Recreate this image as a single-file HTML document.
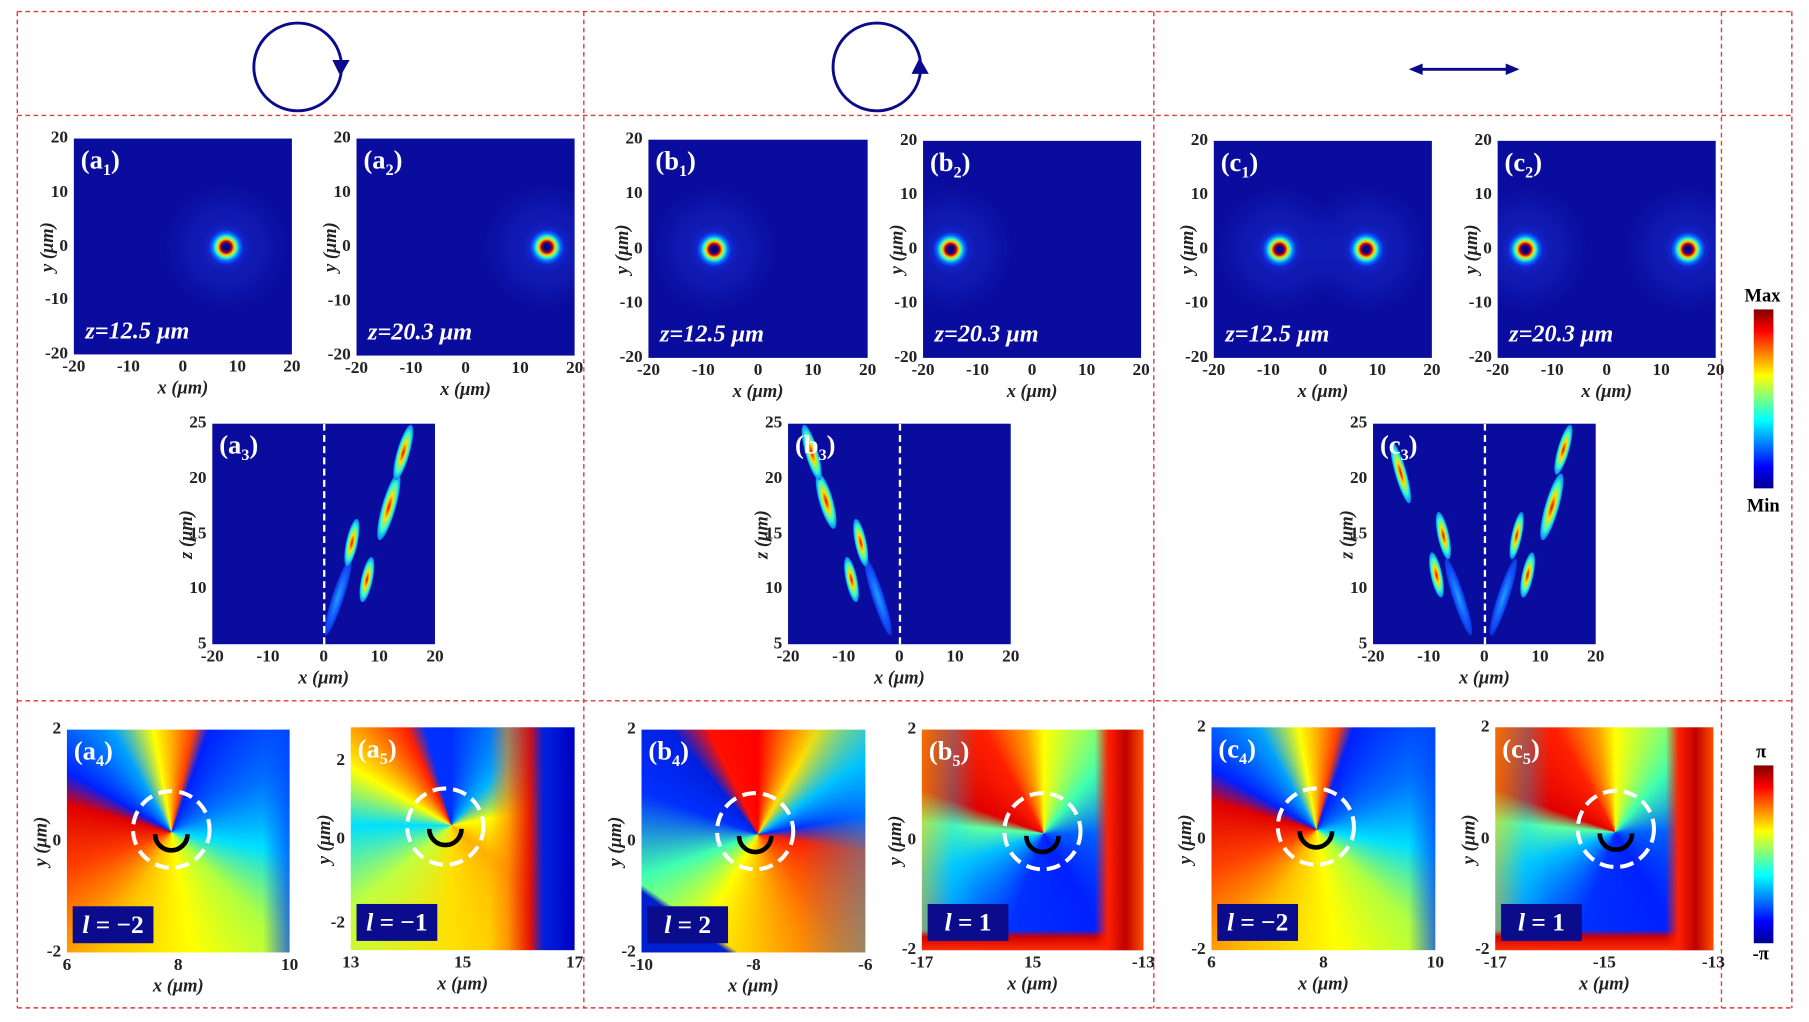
<!DOCTYPE html>
<html><head><meta charset="utf-8"><style>
html,body{margin:0;padding:0;background:#fff;}
body{width:1809px;height:1022px;overflow:hidden;position:relative;}
#w{position:absolute;left:0;top:0;width:1560px;height:881px;transform:scale(1.1538,1.1545);transform-origin:0 0;font-family:"Liberation Serif","DejaVu Serif",serif;}
.pl{position:absolute;}
.int{background:#0a0c9e;}
.xt,.yt{position:absolute;font-weight:bold;font-size:15px;color:#222;white-space:nowrap;}
.xt{top:100%;margin-top:3px;transform:translateX(-50%);}
.yt{right:100%;margin-right:5px;transform:translateY(-50%);}
.xl{position:absolute;top:100%;margin-top:21px;left:50%;transform:translateX(-50%);font-weight:bold;font-style:italic;font-size:16px;color:#222;white-space:nowrap;}
.yl{position:absolute;right:100%;margin-right:22px;top:50%;transform:translate(50%,-50%) rotate(-90deg);font-weight:bold;font-style:italic;font-size:16px;color:#222;white-space:nowrap;}
.lab{position:absolute;left:6px;top:6px;color:#fff;font-weight:bold;font-size:23px;}
.lab sub{font-size:14px;}
.zt{position:absolute;left:10px;bottom:8px;color:#fff;font-weight:bold;font-style:italic;font-size:21px;white-space:nowrap;}
.dn{position:absolute;width:40px;height:40px;margin:-20px 0 0 -20px;border-radius:50%;background:radial-gradient(circle at 50% 50%,#000070 0,#000090 3px,#d00000 5px,#ffd000 7px,#40ffc0 9px,#0070ff 12px,rgba(20,40,220,.6) 15px,rgba(10,12,158,0) 20px);}
.halo{position:absolute;width:110px;height:110px;margin:-55px 0 0 -55px;border-radius:50%;background:radial-gradient(circle,rgba(40,80,255,.35) 0,rgba(30,60,230,.25) 40%,rgba(10,12,158,0) 70%);}
.st{position:absolute;border-radius:50%;background:radial-gradient(ellipse at 50% 50%,#e00000 0,#ffe000 25%,#30ffd0 50%,#0060ff 75%,rgba(10,12,158,0) 100%);}
.sf{position:absolute;border-radius:50%;background:radial-gradient(ellipse at 50% 50%,#20a0ff 0,#1050ff 50%,rgba(10,12,158,0) 100%);}
.vd{position:absolute;left:50%;top:0;bottom:0;border-left:2px dashed #fff;margin-left:-1px;}
.lb{position:absolute;left:5px;bottom:8px;width:70px;height:32px;background:#0a0c8c;color:#fff;font-weight:bold;font-style:italic;font-size:22px;line-height:32px;text-align:center;white-space:nowrap;}
.lb span{font-style:normal;}
.ov{position:absolute;left:0;top:0;width:100%;height:100%;}
.clip{position:absolute;left:0;top:0;width:100%;height:100%;overflow:hidden;}
</style></head><body><div id="w">

<svg width="1560" height="881" style="position:absolute;left:0;top:0" viewBox="0 0 1560 881">
<g stroke="#e03a3a" stroke-width="1.2" stroke-dasharray="4 3" fill="none">
<line x1="15" y1="10" x2="1553" y2="10"/><line x1="15" y1="100" x2="1553" y2="100"/>
<line x1="15" y1="607" x2="1553" y2="607"/><line x1="15" y1="873" x2="1553" y2="873"/>
<line x1="15" y1="10" x2="15" y2="873"/><line x1="506" y1="10" x2="506" y2="873"/>
<line x1="1000" y1="10" x2="1000" y2="873"/><line x1="1492" y1="10" x2="1492" y2="873"/>
<line x1="1553" y1="10" x2="1553" y2="873"/>
</g>
<g stroke="#0a0a8c" stroke-width="2.5" fill="none">
<ellipse cx="258" cy="58" rx="38" ry="38"/><ellipse cx="760" cy="58" rx="38" ry="38"/>
<line x1="1227" y1="60" x2="1311" y2="60"/>
</g>
<g fill="#0a0a8c">
<polygon points="288,52 303,52 295,66"/><polygon points="790,64 805,64 797,50"/>
<polygon points="1221,60 1233,55 1233,65"/><polygon points="1317,60 1305,55 1305,65"/>
</g>
</svg>

<!-- a1 -->
<div class="pl int" style="left:64px;top:120px;width:189px;height:187px">
<div class="clip"><div class="halo" style="left:70%;top:50%"></div></div><div class="dn" style="left:70%;top:50%"></div>
<span class="lab">(a<sub>1</sub>)</span><span class="zt">z=12.5 μm</span>
<span class="xt" style="left:0">-20</span><span class="xt" style="left:25%">-10</span><span class="xt" style="left:50%">0</span><span class="xt" style="left:75%">10</span><span class="xt" style="left:100%">20</span>
<span class="yt" style="top:0">20</span><span class="yt" style="top:25%">10</span><span class="yt" style="top:50%">0</span><span class="yt" style="top:75%">-10</span><span class="yt" style="top:100%">-20</span>
<span class="xl">x (μm)</span><span class="yl">y (μm)</span></div>
<!-- a2 -->
<div class="pl int" style="left:309px;top:120px;width:189px;height:188px">
<div class="clip"><div class="halo" style="left:87%;top:50%"></div></div><div class="dn" style="left:87.5%;top:50%"></div>
<span class="lab">(a<sub>2</sub>)</span><span class="zt">z=20.3 μm</span>
<span class="xt" style="left:0">-20</span><span class="xt" style="left:25%">-10</span><span class="xt" style="left:50%">0</span><span class="xt" style="left:75%">10</span><span class="xt" style="left:100%">20</span>
<span class="yt" style="top:0">20</span><span class="yt" style="top:25%">10</span><span class="yt" style="top:50%">0</span><span class="yt" style="top:75%">-10</span><span class="yt" style="top:100%">-20</span>
<span class="xl">x (μm)</span><span class="yl">y (μm)</span></div>
<!-- b1 -->
<div class="pl int" style="left:562px;top:121px;width:190px;height:189px">
<div class="clip"><div class="halo" style="left:30%;top:50%"></div></div><div class="dn" style="left:30%;top:50%"></div>
<span class="lab">(b<sub>1</sub>)</span><span class="zt">z=12.5 μm</span>
<span class="xt" style="left:0">-20</span><span class="xt" style="left:25%">-10</span><span class="xt" style="left:50%">0</span><span class="xt" style="left:75%">10</span><span class="xt" style="left:100%">20</span>
<span class="yt" style="top:0">20</span><span class="yt" style="top:25%">10</span><span class="yt" style="top:50%">0</span><span class="yt" style="top:75%">-10</span><span class="yt" style="top:100%">-20</span>
<span class="xl">x (μm)</span><span class="yl">y (μm)</span></div>
<!-- b2 -->
<div class="pl int" style="left:800px;top:122px;width:189px;height:188px">
<div class="clip"><div class="halo" style="left:12.5%;top:50%"></div></div><div class="dn" style="left:12.5%;top:50%"></div>
<span class="lab">(b<sub>2</sub>)</span><span class="zt">z=20.3 μm</span>
<span class="xt" style="left:0">-20</span><span class="xt" style="left:25%">-10</span><span class="xt" style="left:50%">0</span><span class="xt" style="left:75%">10</span><span class="xt" style="left:100%">20</span>
<span class="yt" style="top:0">20</span><span class="yt" style="top:25%">10</span><span class="yt" style="top:50%">0</span><span class="yt" style="top:75%">-10</span><span class="yt" style="top:100%">-20</span>
<span class="xl">x (μm)</span><span class="yl">y (μm)</span></div>
<!-- c1 -->
<div class="pl int" style="left:1052px;top:122px;width:189px;height:188px">
<div class="clip"><div class="halo" style="left:30%;top:50%"></div><div class="halo" style="left:70%;top:50%"></div></div>
<div class="dn" style="left:30%;top:50%"></div><div class="dn" style="left:70%;top:50%"></div>
<span class="lab">(c<sub>1</sub>)</span><span class="zt">z=12.5 μm</span>
<span class="xt" style="left:0">-20</span><span class="xt" style="left:25%">-10</span><span class="xt" style="left:50%">0</span><span class="xt" style="left:75%">10</span><span class="xt" style="left:100%">20</span>
<span class="yt" style="top:0">20</span><span class="yt" style="top:25%">10</span><span class="yt" style="top:50%">0</span><span class="yt" style="top:75%">-10</span><span class="yt" style="top:100%">-20</span>
<span class="xl">x (μm)</span><span class="yl">y (μm)</span></div>
<!-- c2 -->
<div class="pl int" style="left:1298px;top:122px;width:189px;height:188px">
<div class="clip"><div class="halo" style="left:12.5%;top:50%"></div><div class="halo" style="left:87.5%;top:50%"></div></div>
<div class="dn" style="left:12.5%;top:50%"></div><div class="dn" style="left:87.5%;top:50%"></div>
<span class="lab">(c<sub>2</sub>)</span><span class="zt">z=20.3 μm</span>
<span class="xt" style="left:0">-20</span><span class="xt" style="left:25%">-10</span><span class="xt" style="left:50%">0</span><span class="xt" style="left:75%">10</span><span class="xt" style="left:100%">20</span>
<span class="yt" style="top:0">20</span><span class="yt" style="top:25%">10</span><span class="yt" style="top:50%">0</span><span class="yt" style="top:75%">-10</span><span class="yt" style="top:100%">-20</span>
<span class="xl">x (μm)</span><span class="yl">y (μm)</span></div>

<!-- a3 -->
<div class="pl int" style="left:184px;top:367px;width:193px;height:191px;overflow:visible">
<div class="clip">
<div class="sf" style="left:54%;top:60%;width:10px;height:70px;transform:rotate(18deg)"></div>
<div class="st" style="left:67%;top:60%;width:10px;height:40px;transform:rotate(12deg)"></div>
<div class="st" style="left:60%;top:43%;width:10px;height:42px;transform:rotate(12deg)"></div>
<div class="st" style="left:76%;top:22%;width:12px;height:60px;transform:rotate(16deg)"></div>
<div class="st" style="left:83%;top:0%;width:11px;height:50px;transform:rotate(16deg)"></div>
<div class="vd"></div></div>
<span class="lab">(a<sub>3</sub>)</span>
<span class="xt" style="left:0">-20</span><span class="xt" style="left:25%">-10</span><span class="xt" style="left:50%">0</span><span class="xt" style="left:75%">10</span><span class="xt" style="left:100%">20</span>
<span class="yt" style="top:0">25</span><span class="yt" style="top:25%">20</span><span class="yt" style="top:50%">15</span><span class="yt" style="top:75%">10</span><span class="yt" style="top:100%">5</span>
<span class="xl">x (μm)</span><span class="yl">z (μm)</span></div>
<!-- b3 -->
<div class="pl int" style="left:683px;top:367px;width:193px;height:191px;overflow:visible">
<div class="clip">
<div class="sf" style="left:38%;top:60%;width:10px;height:70px;transform:rotate(-18deg)"></div>
<div class="st" style="left:26%;top:60%;width:10px;height:40px;transform:rotate(-12deg)"></div>
<div class="st" style="left:30%;top:43%;width:10px;height:42px;transform:rotate(-12deg)"></div>
<div class="st" style="left:14%;top:22%;width:12px;height:50px;transform:rotate(-16deg)"></div>
<div class="st" style="left:8%;top:0%;width:11px;height:50px;transform:rotate(-16deg)"></div>
<div class="vd"></div></div>
<span class="lab">(b<sub>3</sub>)</span>
<span class="xt" style="left:0">-20</span><span class="xt" style="left:25%">-10</span><span class="xt" style="left:50%">0</span><span class="xt" style="left:75%">10</span><span class="xt" style="left:100%">20</span>
<span class="yt" style="top:0">25</span><span class="yt" style="top:25%">20</span><span class="yt" style="top:50%">15</span><span class="yt" style="top:75%">10</span><span class="yt" style="top:100%">5</span>
<span class="xl">x (μm)</span><span class="yl">z (μm)</span></div>
<!-- c3 -->
<div class="pl int" style="left:1190px;top:367px;width:193px;height:191px;overflow:visible">
<div class="clip">
<div class="sf" style="left:56%;top:60%;width:10px;height:70px;transform:rotate(18deg)"></div>
<div class="sf" style="left:36%;top:60%;width:10px;height:70px;transform:rotate(-18deg)"></div>
<div class="st" style="left:67%;top:58%;width:10px;height:40px;transform:rotate(12deg)"></div>
<div class="st" style="left:62%;top:40%;width:9px;height:42px;transform:rotate(12deg)"></div>
<div class="st" style="left:77%;top:22%;width:12px;height:60px;transform:rotate(16deg)"></div>
<div class="st" style="left:83%;top:0%;width:10px;height:45px;transform:rotate(16deg)"></div>
<div class="st" style="left:26%;top:58%;width:10px;height:40px;transform:rotate(-12deg)"></div>
<div class="st" style="left:29%;top:40%;width:10px;height:42px;transform:rotate(-12deg)"></div>
<div class="st" style="left:10%;top:8%;width:10px;height:55px;transform:rotate(-16deg)"></div>
<div class="vd"></div></div>
<span class="lab">(c<sub>3</sub>)</span>
<span class="xt" style="left:0">-20</span><span class="xt" style="left:25%">-10</span><span class="xt" style="left:50%">0</span><span class="xt" style="left:75%">10</span><span class="xt" style="left:100%">20</span>
<span class="yt" style="top:0">25</span><span class="yt" style="top:25%">20</span><span class="yt" style="top:50%">15</span><span class="yt" style="top:75%">10</span><span class="yt" style="top:100%">5</span>
<span class="xl">x (μm)</span><span class="yl">z (μm)</span></div>

<!-- colorbars -->
<div class="pl" style="left:1520px;top:268px;width:17px;height:155px;background:linear-gradient(to bottom,#800000,#ff0000 12%,#ffff00 37%,#00ffff 62%,#0000ff 88%,#00008f)"></div>
<div class="pl" style="left:1512px;top:248px;font-weight:bold;font-size:16px;">Max</div>
<div class="pl" style="left:1514px;top:430px;font-weight:bold;font-size:16px;">Min</div>
<div class="pl" style="left:1520px;top:663px;width:17px;height:154px;background:linear-gradient(to bottom,#800000,#ff0000 12%,#ffff00 37%,#00ffff 62%,#0000ff 88%,#00008f)"></div>
<div class="pl" style="left:1522px;top:643px;font-weight:bold;font-size:16px;">π</div>
<div class="pl" style="left:1519px;top:818px;font-weight:bold;font-size:16px;">-π</div>

<!-- phase a4 -->
<div class="pl" style="left:58px;top:632px;width:193px;height:193px;background:conic-gradient(from 0deg at 47% 46%,#ffb000 0deg,#ff4000 12deg,#0020ff 20deg,#0070ff 60deg,#00e0ff 100deg,#b0ff40 135deg,#ffff00 170deg,#ffc000 210deg,#ff4000 250deg,#e00000 285deg,#0020ff 300deg,#00a0ff 330deg,#ffff00 350deg,#ffb000 360deg)">
<div class="ov" style="background:linear-gradient(to right,transparent 88%,rgba(0,60,255,.7) 100%)"></div>
<svg class="ov" viewBox="0 0 192 192"><circle cx="90" cy="86" r="33" fill="none" stroke="#fff" stroke-width="3.5" stroke-dasharray="12 6"/><path d="M76 90 A14 14 0 0 0 104 90" fill="none" stroke="#000" stroke-width="4"/></svg>
<span class="lab">(a<sub>4</sub>)</span><span class="lb">l <span>= −2</span></span>
<span class="xt" style="left:0">6</span><span class="xt" style="left:50%">8</span><span class="xt" style="left:100%">10</span>
<span class="yt" style="top:0">2</span><span class="yt" style="top:50%">0</span><span class="yt" style="top:100%">-2</span>
<span class="xl">x (μm)</span><span class="yl">y (μm)</span></div>
<!-- a5 -->
<div class="pl" style="left:304px;top:630px;width:194px;height:193px;background:conic-gradient(from 0deg at 45% 44%,#0030ff 0deg,#00b0ff 40deg,#ffff00 80deg,#ffb000 130deg,#ffe000 180deg,#c0ff40 230deg,#00e0ff 270deg,#ffff00 300deg,#ff2000 335deg,#0030ff 345deg,#0030ff 360deg)">
<div class="ov" style="background:linear-gradient(to right,transparent 62%,rgba(255,120,0,.6) 70%,rgba(230,0,0,.9) 80%,#0020e0 86%,#0000c0 100%)"></div>
<svg class="ov" viewBox="0 0 194 193"><circle cx="82" cy="86" r="33" fill="none" stroke="#fff" stroke-width="3.5" stroke-dasharray="12 6"/><path d="M68 88 A14 14 0 0 0 96 88" fill="none" stroke="#000" stroke-width="4"/></svg>
<span class="lab">(a<sub>5</sub>)</span><span class="lb">l <span>= −1</span></span>
<span class="xt" style="left:0">13</span><span class="xt" style="left:50%">15</span><span class="xt" style="left:100%">17</span>
<span class="yt" style="top:15%">2</span><span class="yt" style="top:50%">0</span><span class="yt" style="top:88%">-2</span>
<span class="xl">x (μm)</span><span class="yl">y (μm)</span></div>
<!-- b4 -->
<div class="pl" style="left:556px;top:632px;width:194px;height:193px;background:conic-gradient(from 0deg at 52% 47%,#ff0000 0deg,#ffe000 30deg,#00c0ff 55deg,#0030ff 80deg,#ff2000 100deg,#ff6000 140deg,#ffc000 180deg,#ffff00 210deg,#40ffb0 250deg,#0030ff 290deg,#0020e0 320deg,#ff1000 335deg,#ff0000 360deg)">
<div class="ov" style="background:linear-gradient(35deg,#0020d0 0,#0020d0 16%,transparent 18%),linear-gradient(to right,transparent 70%,rgba(0,200,255,.4) 100%)"></div>
<svg class="ov" viewBox="0 0 193 193"><circle cx="98" cy="88" r="33" fill="none" stroke="#fff" stroke-width="3.5" stroke-dasharray="12 6"/><path d="M84 92 A14 14 0 0 0 112 92" fill="none" stroke="#000" stroke-width="4"/></svg>
<span class="lab">(b<sub>4</sub>)</span><span class="lb">l <span>= 2</span></span>
<span class="xt" style="left:0">-10</span><span class="xt" style="left:50%">-8</span><span class="xt" style="left:100%">-6</span>
<span class="yt" style="top:0">2</span><span class="yt" style="top:50%">0</span><span class="yt" style="top:100%">-2</span>
<span class="xl">x (μm)</span><span class="yl">y (μm)</span></div>
<!-- b5 -->
<div class="pl" style="left:799px;top:632px;width:192px;height:191px;background:conic-gradient(from 0deg at 55% 47%,#ffff00 0deg,#40ffb0 40deg,#0060ff 90deg,#0020ff 150deg,#0030ff 200deg,#00c0ff 250deg,#60ffa0 275deg,#e00000 290deg,#ff2000 330deg,#ffa000 350deg,#ffff00 360deg)">
<div class="ov" style="background:linear-gradient(to right,transparent 78%,#ff2000 84%,#c00000 92%,#ff5000 100%),linear-gradient(to top,#ff3000 0,#d00000 6%,transparent 9%),linear-gradient(to right,rgba(255,200,0,.5) 0,rgba(0,220,255,.3) 14%,transparent 25%)"></div>
<svg class="ov" viewBox="0 0 191 191"><circle cx="104" cy="88" r="33" fill="none" stroke="#fff" stroke-width="3.5" stroke-dasharray="12 6"/><path d="M90 92 A14 14 0 0 0 118 92" fill="none" stroke="#000" stroke-width="4"/></svg>
<span class="lab">(b<sub>5</sub>)</span><span class="lb">l <span>= 1</span></span>
<span class="xt" style="left:0">-17</span><span class="xt" style="left:50%">15</span><span class="xt" style="left:100%">-13</span>
<span class="yt" style="top:0">2</span><span class="yt" style="top:50%">0</span><span class="yt" style="top:100%">-2</span>
<span class="xl">x (μm)</span><span class="yl">y (μm)</span></div>
<!-- c4 -->
<div class="pl" style="left:1050px;top:630px;width:194px;height:193px;background:conic-gradient(from 0deg at 47% 46%,#ffb000 0deg,#ff4000 12deg,#0020ff 20deg,#0070ff 60deg,#00e0ff 100deg,#b0ff40 135deg,#ffff00 170deg,#ffc000 210deg,#ff4000 250deg,#e00000 285deg,#0020ff 300deg,#00a0ff 330deg,#ffff00 350deg,#ffb000 360deg)">
<div class="ov" style="background:linear-gradient(to right,transparent 88%,rgba(0,60,255,.7) 100%)"></div>
<svg class="ov" viewBox="0 0 193 193"><circle cx="90" cy="86" r="33" fill="none" stroke="#fff" stroke-width="3.5" stroke-dasharray="12 6"/><path d="M76 90 A14 14 0 0 0 104 90" fill="none" stroke="#000" stroke-width="4"/></svg>
<span class="lab">(c<sub>4</sub>)</span><span class="lb">l <span>= −2</span></span>
<span class="xt" style="left:0">6</span><span class="xt" style="left:50%">8</span><span class="xt" style="left:100%">10</span>
<span class="yt" style="top:0">2</span><span class="yt" style="top:50%">0</span><span class="yt" style="top:100%">-2</span>
<span class="xl">x (μm)</span><span class="yl">y (μm)</span></div>
<!-- c5 -->
<div class="pl" style="left:1296px;top:630px;width:189px;height:193px;background:conic-gradient(from 0deg at 55% 47%,#ffff00 0deg,#40ffb0 40deg,#0060ff 90deg,#0020ff 150deg,#0030ff 200deg,#00c0ff 250deg,#60ffa0 275deg,#e00000 290deg,#ff2000 330deg,#ffa000 350deg,#ffff00 360deg)">
<div class="ov" style="background:linear-gradient(to right,transparent 78%,#ff2000 84%,#c00000 92%,#ff5000 100%),linear-gradient(to top,#ff3000 0,#d00000 6%,transparent 9%),linear-gradient(to right,rgba(255,200,0,.5) 0,rgba(0,220,255,.3) 14%,transparent 25%)"></div>
<svg class="ov" viewBox="0 0 188 193"><circle cx="104" cy="88" r="33" fill="none" stroke="#fff" stroke-width="3.5" stroke-dasharray="12 6"/><path d="M90 92 A14 14 0 0 0 118 92" fill="none" stroke="#000" stroke-width="4"/></svg>
<span class="lab">(c<sub>5</sub>)</span><span class="lb">l <span>= 1</span></span>
<span class="xt" style="left:0">-17</span><span class="xt" style="left:50%">-15</span><span class="xt" style="left:100%">-13</span>
<span class="yt" style="top:0">2</span><span class="yt" style="top:50%">0</span><span class="yt" style="top:100%">-2</span>
<span class="xl">x (μm)</span><span class="yl">y (μm)</span></div>

</div></body></html>
